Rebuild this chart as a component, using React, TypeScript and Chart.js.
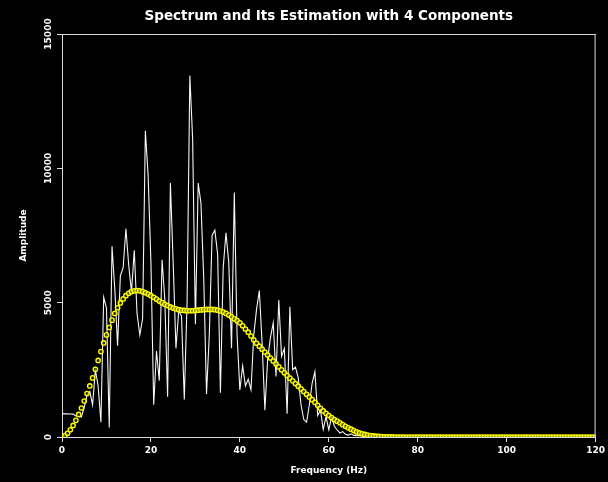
import React, { useEffect, useRef } from "react";
import { Chart, registerables } from "chart.js";

Chart.register(...registerables);

const TITLE = "Spectrum and Its Estimation with 4 Components";
const X_TITLE = "Frequency (Hz)";
const Y_TITLE = "Amplitude";

// Width of one frequency bin (Hz)
const BIN_HZ = 0.625;

const X_TICKS = [0, 20, 40, 60, 80, 100, 120];
const Y_TICKS = [0, 5000, 10000, 15000];

// Measured amplitude spectrum, one value per bin starting at 0 Hz
const spectrum = [
  870, 860, 860, 855, 850, 780, 760, 750, 1100, 1550,
  1700, 1200, 2500, 1900, 550, 5200, 4800, 350, 7100, 5500,
  3400, 6000, 6300, 7750, 6400, 5400, 6950, 4600, 3800, 4400,
  11400, 9700, 6500, 1200, 3200, 2100, 6600, 5100, 1500, 9450,
  6500, 3300, 4700, 4500, 1400, 5000, 13450, 11100, 4200, 9450,
  8700, 5900, 1600, 3800, 7500, 7700, 6800, 1650, 6300, 7600,
  6500, 3300, 9100, 3800, 1750, 2650, 1900, 2150, 1750, 3800,
  4750, 5450, 3500, 1000, 2900, 3700, 4250, 2250, 5100, 3000,
  3300, 870, 4850, 2500, 2600, 2200, 1200, 650, 550, 1200,
  2000, 2430, 800, 1000, 280, 760, 270, 750, 400, 260,
  150, 200, 100, 70, 120, 60, 45, 60, 35, 50,
  40, 55, 30, 45, 60, 35, 50, 40, 25, 45,
  55, 35, 40, 60, 30, 45, 50, 35, 55, 40,
  30, 50, 45, 60, 35, 40, 55, 30, 45, 50,
  40, 60, 35, 45, 30, 55, 40, 50, 35, 45,
  60, 30, 40, 55, 45, 35, 50, 40, 60, 30,
  45, 50, 35, 55, 40, 30, 45, 60, 35, 50,
  40, 55, 30, 45, 50, 35, 60, 40, 45, 30,
  55, 35, 50, 40, 45, 60, 30, 50, 35, 45,
  40, 55, 35,
];

// Four-component estimate of the spectrum, same bins
const estimate = [
  0, 50, 140, 270, 430, 620, 840, 1080, 1340, 1620,
  1900, 2200, 2520, 2850, 3180, 3500, 3800, 4080, 4350, 4600,
  4810, 4990, 5140, 5260, 5350, 5410, 5440, 5450, 5440, 5410,
  5370, 5320, 5260, 5200, 5130, 5060, 5000, 4940, 4890, 4840,
  4800, 4770, 4740, 4720, 4710, 4700, 4700, 4700, 4710, 4720,
  4730, 4740, 4750, 4750, 4750, 4740, 4720, 4690, 4650, 4600,
  4540, 4470, 4400, 4330, 4250, 4140, 4020, 3900, 3760, 3620,
  3490, 3380, 3270, 3160, 3050, 2940, 2830, 2720, 2610, 2500,
  2390, 2290, 2190, 2090, 1990, 1890, 1790, 1690, 1590, 1490,
  1390, 1290, 1180, 1070, 970, 880, 800, 720, 650, 590,
  530, 460, 400, 340, 290, 240, 190, 150, 120, 95,
  70, 55, 40, 30, 20, 14, 9, 6, 4, 2,
  0, 0, 0, 0, 0, 0, 0, 0, 0, 0,
  0, 0, 0, 0, 0, 0, 0, 0, 0, 0,
  0, 0, 0, 0, 0, 0, 0, 0, 0, 0,
  0, 0, 0, 0, 0, 0, 0, 0, 0, 0,
  0, 0, 0, 0, 0, 0, 0, 0, 0, 0,
  0, 0, 0, 0, 0, 0, 0, 0, 0, 0,
  0, 0, 0, 0, 0, 0, 0, 0, 0, 0,
  0, 0, 0,
];

const AXIS_COLOR = "#dcdcdc";
const TEXT_COLOR = "#ffffff";
const FONT = '"DejaVu Sans", sans-serif';

const toPoints = (vals: number[]) => vals.map((y, i) => ({ x: i * BIN_HZ, y }));

// Box frame, titles and rotated y tick labels
const decorations = {
  id: "decorations",
  beforeDraw(chart: any) {
    const { ctx, width, height } = chart;
    ctx.save();
    ctx.fillStyle = "#000";
    ctx.fillRect(0, 0, width, height);
    ctx.restore();
  },
  afterDraw(chart: any) {
    const { ctx, chartArea: a, scales } = chart;
    ctx.save();
    ctx.strokeStyle = AXIS_COLOR;
    ctx.lineWidth = 1;
    ctx.beginPath();
    ctx.moveTo(a.left, a.top + 0.5);
    ctx.lineTo(a.right, a.top + 0.5);
    ctx.moveTo(a.right - 0.5, a.top);
    ctx.lineTo(a.right - 0.5, a.bottom);
    ctx.stroke();

    ctx.fillStyle = TEXT_COLOR;
    ctx.textAlign = "center";
    ctx.textBaseline = "middle";

    ctx.font = `bold 9px ${FONT}`;
    for (const v of Y_TICKS) {
      const y = scales.y.getPixelForValue(v);
      ctx.save();
      ctx.translate(49, y);
      ctx.rotate(-Math.PI / 2);
      ctx.fillText(String(v), 0, 0);
      ctx.restore();
    }

    ctx.save();
    ctx.translate(24, (a.top + a.bottom) / 2);
    ctx.rotate(-Math.PI / 2);
    ctx.fillText(Y_TITLE, 0, 0);
    ctx.restore();

    const cx = (a.left + a.right) / 2;
    ctx.fillText(X_TITLE, cx, 471);

    ctx.font = `bold 13.5px ${FONT}`;
    ctx.fillText(TITLE, cx, 16.5);
    ctx.restore();
  },
};

export default function App() {
  const canvasRef = useRef<HTMLCanvasElement | null>(null);

  useEffect(() => {
    const canvas = canvasRef.current;
    if (!canvas) return;
    const chart = new Chart(canvas, {
      type: "line",
      data: {
        datasets: [
          {
            label: "Estimate",
            data: toPoints(estimate),
            showLine: false,
            pointStyle: "circle",
            pointRadius: 2.2,
            pointBorderWidth: 1.3,
            pointBorderColor: "#ffff00",
            pointBackgroundColor: "rgba(60,60,0,0.6)",
          },
          {
            label: "Spectrum",
            data: toPoints(spectrum),
            borderColor: "#f6f6f6",
            borderWidth: 1.1,
            pointRadius: 0,
            tension: 0,
            fill: false,
          },
        ],
      },
      options: {
        responsive: false,
        devicePixelRatio: 1,
        animation: false,
        events: [],
        layout: { padding: { top: 34, right: 10, left: 0, bottom: 0 } },
        plugins: {
          legend: { display: false },
          title: { display: false },
          tooltip: { enabled: false },
        },
        scales: {
          x: {
            type: "linear",
            min: 0,
            max: 120,
            afterFit: (s: any) => {
              s.height = 45;
            },
            afterBuildTicks: (s: any) => {
              s.ticks = X_TICKS.map((v) => ({ value: v }));
            },
            ticks: {
              color: TEXT_COLOR,
              font: { family: FONT, size: 9, weight: "bold" },
              padding: 3,
              maxRotation: 0,
              autoSkip: false,
            },
            grid: {
              drawOnChartArea: false,
              drawTicks: true,
              tickLength: 5,
              color: AXIS_COLOR,
            },
            border: { display: true, color: AXIS_COLOR, width: 1 },
          },
          y: {
            type: "linear",
            min: 0,
            max: 15000,
            afterFit: (s: any) => {
              s.width = 62;
            },
            afterBuildTicks: (s: any) => {
              s.ticks = Y_TICKS.map((v) => ({ value: v }));
            },
            ticks: { display: false },
            grid: {
              drawOnChartArea: false,
              drawTicks: true,
              tickLength: 5,
              color: AXIS_COLOR,
            },
            border: { display: true, color: AXIS_COLOR, width: 1 },
          },
        },
      },
      plugins: [decorations],
    });
    return () => chart.destroy();
  }, []);

  return (
    <div
      style={{
        position: "absolute",
        left: 0,
        top: 0,
        width: 608,
        height: 482,
        background: "#000",
      }}
    >
      <canvas ref={canvasRef} width={608} height={482} style={{ display: "block" }} />
    </div>
  );
}
